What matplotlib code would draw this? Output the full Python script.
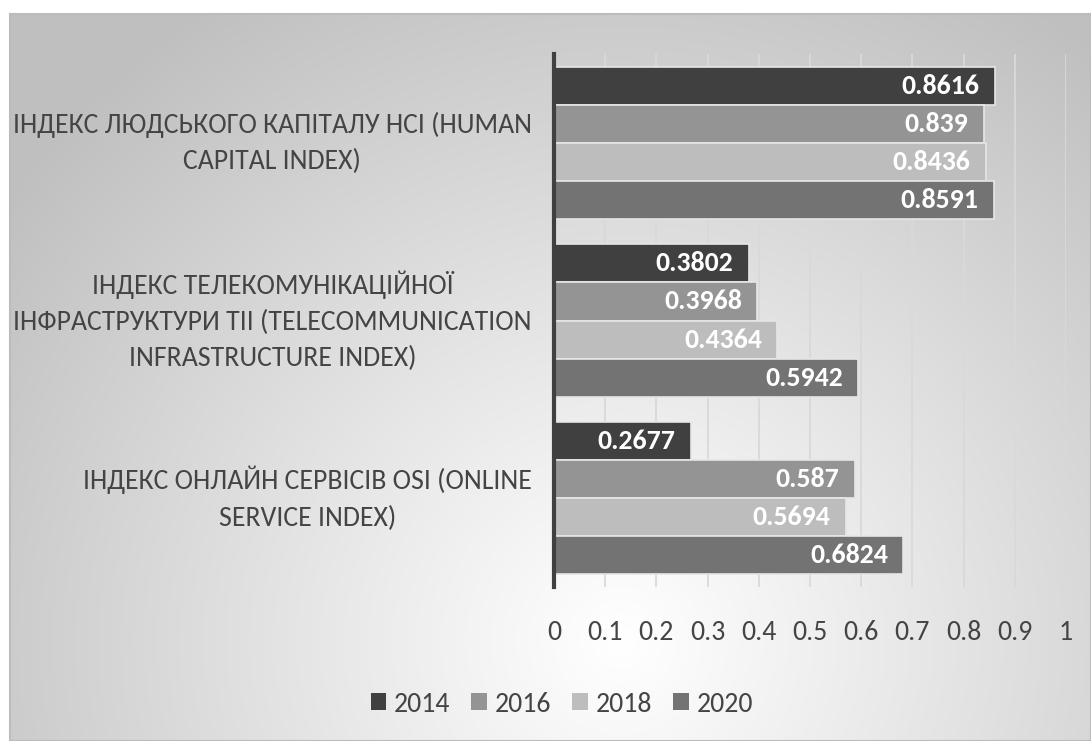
import numpy as np
import matplotlib
matplotlib.use("Agg")
import matplotlib.pyplot as plt

categories = [
    "ІНДЕКС ЛЮДСЬКОГО КАПІТАЛУ HCI (HUMAN\nCAPITAL INDEX)",
    "ІНДЕКС ТЕЛЕКОМУНІКАЦІЙНОЇ\nІНФРАСТРУКТУРИ TII (TELECOMMUNICATION\nINFRASTRUCTURE INDEX)",
    "ІНДЕКС ОНЛАЙН СЕРВІСІВ OSI (ONLINE\nSERVICE INDEX)",
]
years = ["2014", "2016", "2018", "2020"]
v2014 = [0.8616, 0.3802, 0.2677]
v2016 = [0.839, 0.3968, 0.587]
v2018 = [0.8436, 0.4364, 0.5694]
v2020 = [0.8591, 0.5942, 0.6824]
label_2014 = ["0.8616", "0.3802", "0.2677"]
label_2016 = ["0.839", "0.3968", "0.587"]
label_2018 = ["0.8436", "0.4364", "0.5694"]
label_2020 = ["0.8591", "0.5942", "0.6824"]
xticks = [0, 0.1, 0.2, 0.3, 0.4, 0.5, 0.6, 0.7, 0.8, 0.9, 1]
xtick_labels = ["0", "0.1", "0.2", "0.3", "0.4", "0.5", "0.6", "0.7", "0.8", "0.9", "1"]

colors = ["#404040", "#949494", "#bdbdbd", "#737373"]

plt.rcParams['font.family'] = ['Carlito', 'Liberation Sans', 'DejaVu Sans']

W, H = 1091, 741
fig = plt.figure(figsize=(W / 100, H / 100), dpi=100)
fig.patch.set_facecolor("white")

# background gradient panel
bg = fig.add_axes([10 / W, 0, 1 - 10 / W, (H - 14) / H], zorder=-2)
ny, nx = 300, 450
yy, xx = np.mgrid[0:ny, 0:nx]
xn = xx / nx * (W - 10) + 10
yn = yy / ny * (H - 14) + 14
cx, cy = 620, 640
d = np.sqrt((xn - cx) ** 2 + (yn - cy) ** 2)
t = np.clip(d / 760, 0, 1)
val = 1.0 - 0.25 * t ** 1.05
img = np.dstack([val, val, val])
bg.imshow(img, aspect="auto", extent=[0, 1, 0, 1], origin="upper")
bg.set_xlim(0, 1)
bg.set_ylim(0, 1)
bg.set_xticks([])
bg.set_yticks([])
for s in bg.spines.values():
    s.set_color("#bcbcbc")
    s.set_linewidth(1.5)

ax = fig.add_axes([554 / W, (H - 587) / H, (1066 - 554) / W, (587 - 54) / H])
ax.set_facecolor("none")

series = [v2014, v2016, v2018, v2020]
labels = [label_2014, label_2016, label_2018, label_2020]
n = len(series)
bh = 0.214
y = np.arange(len(categories))
for i, (vals, lab) in enumerate(zip(series, labels)):
    pos = y + (i - (n - 1) / 2) * bh
    bars = ax.barh(pos, vals, height=bh, color=colors[i], edgecolor="#e6e6e6",
                   linewidth=1.2, label=years[i], zorder=3)
    for b, txt in zip(bars, lab):
        ax.text(b.get_width() - 0.03, b.get_y() + b.get_height() / 2, txt,
                ha="right", va="center", color="white", fontsize=20,
                fontweight="bold", zorder=4)

ax.set_xlim(0, 1)
ax.set_ylim(2.5, -0.5)
ax.set_xticks(xticks)
ax.set_xticklabels(xtick_labels)
ax.set_yticks(y)
ax.set_yticklabels(categories, multialignment="center", linespacing=1.55, va="center")
ax.tick_params(axis="x", length=0, pad=24, labelsize=20, labelcolor="#444444")
ax.tick_params(axis="y", length=0, pad=16, labelsize=20, labelcolor="#444444")
ax.grid(axis="x", color="#d9d9d9", linewidth=1.3, zorder=0)
for s in ["top", "right", "bottom"]:
    ax.spines[s].set_visible(False)
ax.spines["left"].set_color("#404040")
ax.spines["left"].set_linewidth(3)
ax.spines["left"].set_zorder(5)

leg = fig.legend(loc="center", bbox_to_anchor=(562 / W, (H - 704) / H), ncol=4,
                 frameon=False, fontsize=20, handlelength=0.55, handleheight=0.55,
                 handletextpad=0.3, columnspacing=0.75, labelcolor="#444444")
for hnd in leg.legend_handles:
    hnd.set_edgecolor("none")

fig.savefig("out.png", dpi=100)
